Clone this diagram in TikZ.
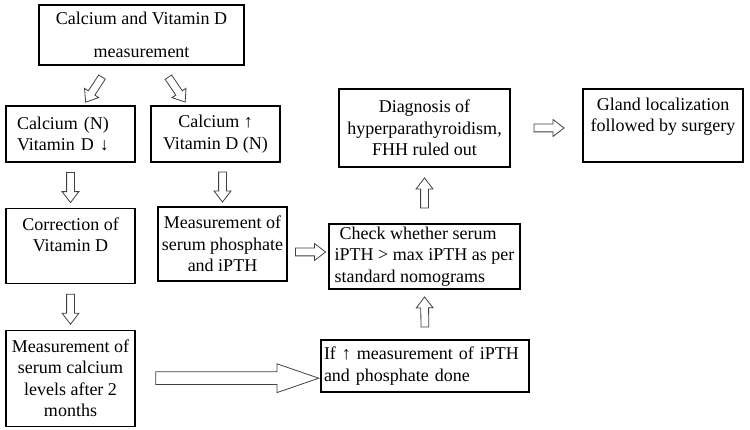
\documentclass[tikz,border=0pt]{standalone}
\usepackage{fontspec}
\setmainfont{Liberation Serif}
\usetikzlibrary{positioning,shapes.arrows}

\begin{document}
\begin{tikzpicture}[
    x=1pt, y=-1pt,
    node distance=45pt,
    box/.style={draw, line width=1.1pt, inner sep=2pt, align=center, font=\fontsize{18}{21.6}\selectfont},
    harrow/.style={single arrow, draw=black!75, line width=0.8pt, fill=white, inner sep=0pt, inner ysep=3.5pt, minimum height=30pt, single arrow head extend=4.5pt, single arrow tip angle=75, sloped, allow upside down},
    bigarrow/.style={harrow, inner ysep=6pt, minimum height=163pt, single arrow head extend=8pt, single arrow tip angle=38},
]
    \useasboundingbox (0,0) rectangle (750,430);
    % first test
    \node[box, minimum width=205pt, minimum height=60pt] (calcvitd) at (141.5,35) {Calcium and Vitamin D\\[12pt]measurement};
    % two outcomes
    \node[box, minimum width=129pt, minimum height=56pt, align=left, text width=107pt, inner xsep=11pt] (calcn) at (70.5,134) {Calcium (N)\\Vitamin D ↓};
    \node[box, minimum width=129pt, minimum height=56pt] (calcup) at (215.5,134) {Calcium ↑\\Vitamin D (N)};
    % left branch
    \node[box, minimum width=129pt, minimum height=75pt, below=45pt of calcn] (correction) {Correction of\\Vitamin D\\\mbox{}};
    \node[box, minimum width=129pt, minimum height=96pt, below=46pt of correction] (serumca) {Measurement of\\serum calcium\\levels after 2\\months};
    % right branch
    \node[box, minimum width=129pt, minimum height=74pt] (phosipth) at (222.5,244) {Measurement of\\serum phosphate\\and iPTH};
    \node[box, minimum width=208pt, minimum height=52pt, align=left, text width=202pt, inner xsep=3pt] (ifup) at (425,366) {If ↑ measurement of iPTH\\and phosphate done};
    \node[box, minimum width=191pt, minimum height=65pt, align=left, inner xsep=1pt] (check) at (424.5,256.5) {\hspace*{5pt}Check whether serum\\iPTH > max iPTH as per\\standard nomograms};
    \node[box, minimum width=171pt, minimum height=78pt] (diagnosis) at (424.5,128) {Diagnosis of\\hyperparathyroidism,\\FHH ruled out};
    \node[box, minimum width=160pt, minimum height=73pt] (gland) at (663,125.5) {Gland localization\\followed by surgery\\\mbox{}};
    % Arrows
    \path ([xshift=-32pt]calcvitd.south) -- ([xshift=13pt]calcn.north) node[pos=0.55, harrow] {};
    \path ([xshift=19pt]calcvitd.south) -- ([xshift=-28pt]calcup.north) node[pos=0.55, harrow] {};
    \path (calcn.south) -- (correction.north) node[midway, harrow] {};
    \path (phosipth.north |- calcup.south) -- (phosipth.north) node[midway, harrow] {};
    \path (correction.south) -- (serumca.north) node[midway, harrow] {};
    \path (serumca.east) -- (serumca.east -| ifup.west) node[midway, bigarrow] {};
    \path ([yshift=-8pt]phosipth.east) -- ([yshift=-8pt]phosipth.east -| check.west) node[midway, harrow] {};
    \path (ifup.north) -- (check.south) node[midway, harrow] {};
    \path (check.north) -- (diagnosis.south) node[midway, harrow] {};
    \path (diagnosis.east) -- (gland.west |- diagnosis.east) node[midway, harrow] {};
\end{tikzpicture}
\end{document}
